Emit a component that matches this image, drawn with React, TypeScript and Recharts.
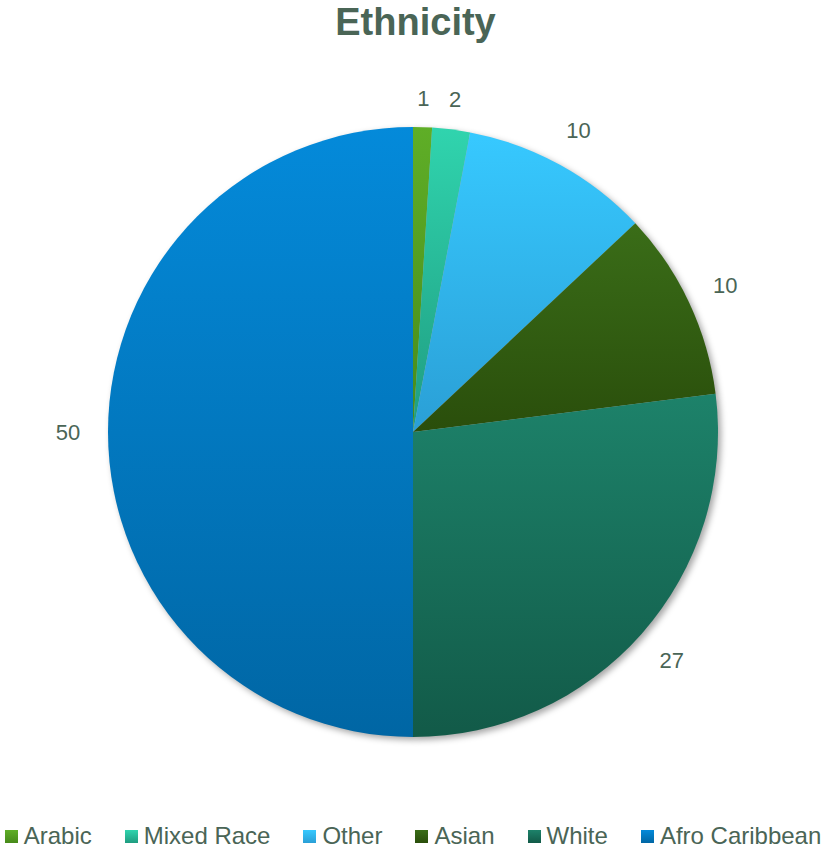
import React from "react";
import { PieChart, Pie, Cell, Legend } from "recharts";

const categories = ["Arabic", "Mixed Race", "Other", "Asian", "White", "Afro Caribbean"];
const counts = [1, 2, 10, 10, 27, 50];

// top / bottom colour of each slice's vertical gradient
const topColors = ["#5fae27", "#30d4ae", "#37c9ff", "#3a6d18", "#1d826a", "#048ada"];
const bottomColors = ["#478a1a", "#1f9c80", "#2a9fd6", "#2a4e0b", "#125a48", "#0066a4"];

const TEXT = "#4a6556";
const FONT = "'Liberation Sans', Arial, sans-serif";
const RAD = Math.PI / 180;

const data = categories.map((name, i) => ({ name, value: counts[i] }));

const renderLabel = (props: any) => {
  const { cx, cy, midAngle, value } = props;
  const s = Math.abs(Math.sin(midAngle * RAD));
  // labels near the top sit a little closer to the edge
  const r = 345 - 11 * Math.pow(s, 16);
  const x = cx + r * Math.cos(-midAngle * RAD);
  const y = cy + r * Math.sin(-midAngle * RAD);
  return (
    <text
      x={x}
      y={y}
      fill={TEXT}
      fontSize={22}
      fontFamily={FONT}
      textAnchor="middle"
      dominantBaseline="central"
    >
      {value}
    </text>
  );
};

const renderLegend = () => (
  <div
    style={{
      display: "flex",
      justifyContent: "center",
      gap: 33,
      fontFamily: FONT,
      fontSize: 24,
      color: TEXT,
      whiteSpace: "nowrap",
      paddingLeft: 3,
    }}
  >
    {categories.map((c, i) => (
      <div key={c} style={{ display: "flex", alignItems: "center" }}>
        <span
          style={{
            display: "inline-block",
            width: 13,
            height: 13,
            marginRight: 6,
            background: `linear-gradient(${topColors[i]}, ${bottomColors[i]})`,
          }}
        />
        <span>{c}</span>
      </div>
    ))}
  </div>
);

export default function App() {
  return (
    <div style={{ position: "absolute", left: 0, top: 0, width: 823, height: 850, background: "#fff" }}>
      <div
        style={{
          position: "absolute",
          left: 0,
          top: 0,
          width: 823,
          textAlign: "center",
          fontFamily: FONT,
          fontWeight: "bold",
          fontSize: 38,
          lineHeight: "44px",
          color: TEXT,
          paddingLeft: 4,
          zIndex: 2,
        }}
      >
        Ethnicity
      </div>
      <PieChart width={823} height={850} margin={{ top: 0, right: 0, bottom: 0, left: 0 }}>
        <defs>
          {categories.map((c, i) => (
            <linearGradient key={c} id={`grad${i}`} x1="0" y1="0" x2="0" y2="1">
              <stop offset="0%" stopColor={topColors[i]} />
              <stop offset="100%" stopColor={bottomColors[i]} />
            </linearGradient>
          ))}
          <filter id="pieShadow" x="-10%" y="-10%" width="120%" height="120%">
            <feGaussianBlur stdDeviation="3" />
          </filter>
        </defs>
        {/* soft shadow under the pie */}
        <Pie
          data={data}
          dataKey="value"
          cx={416}
          cy={435}
          outerRadius={305}
          startAngle={90}
          endAngle={-270}
          stroke="none"
          fill="rgba(0,0,0,0.35)"
          style={{ filter: "url(#pieShadow)" }}
          isAnimationActive={false}
          legendType="none"
        />
        <Pie
          data={data}
          dataKey="value"
          nameKey="name"
          cx={413}
          cy={432}
          outerRadius={305}
          startAngle={90}
          endAngle={-270}
          stroke="none"
          label={renderLabel}
          labelLine={false}
          isAnimationActive={false}
        >
          {data.map((d, i) => (
            <Cell key={d.name} fill={`url(#grad${i})`} />
          ))}
        </Pie>
        <Legend
          content={renderLegend}
          wrapperStyle={{ left: 0, top: 822, width: 823 }}
        />
      </PieChart>
    </div>
  );
}
